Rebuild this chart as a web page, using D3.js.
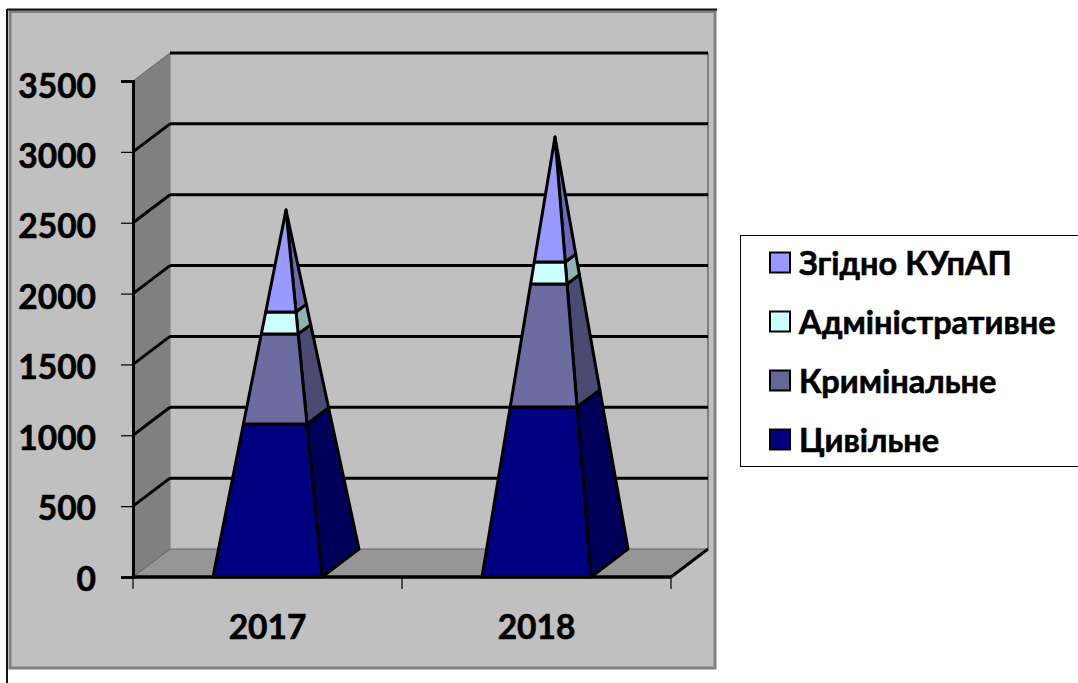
<!DOCTYPE html>
<html><head><meta charset="utf-8">
<script src="https://cdn.jsdelivr.net/npm/d3@7"></script>
<style>html,body{margin:0;padding:0;background:#fff}svg{display:block}text{font-family:Lato,"Open Sans",sans-serif;font-weight:700;fill:#000;stroke:#000;stroke-width:.6px}</style>
</head><body><svg id="c" width="1078" height="683"></svg>
<script>
const categories=["2017","2018"];
const seriesNames=["Цивільне","Кримінальне","Адміністративне","Згідно КУпАП"];
const civil=[1038,1161];
const criminal=[611,841];
const admin=[150,150];
const kupap=[692,854];
const yTicks=[0,500,1000,1500,2000,2500,3000,3500];
const frontColors=["#000080","#6c6ca2","#ccffff","#9999ff"];
const sideColors=["#00005a","#4b4b72","#8fb3b3","#6b6bb3"];
const legendColors=["#000080","#666699","#ccffff","#9999ff"];

const svg=d3.select("#c");
const x=d3.scaleBand().domain(categories).range([133,671]);
const y=d3.scaleLinear().domain([0,3500]).range([577,81]);
const labelY=d3.scaleLinear().domain([0,3500]).range([577,84]);
const dx=d3.scaleLinear().domain([0,1]).range([0,37]);
const dy=d3.scaleLinear().domain([0,1]).range([0,-28]);
const P=(px,v,d)=>[px+dx(d),y(v)+dy(d)];
const line=d3.line();
const poly=(pts,fill,stroke,sw)=>svg.append("path").attr("d",line(pts)+"Z").attr("fill",fill).attr("stroke",stroke).attr("stroke-width",sw).attr("stroke-linejoin","round");
const seg=(a,b,stroke,sw)=>svg.append("line").attr("x1",a[0]).attr("y1",a[1]).attr("x2",b[0]).attr("y2",b[1]).attr("stroke",stroke).attr("stroke-width",sw);

// panel
svg.append("rect").attr("x",10).attr("y",11.5).attr("width",705).attr("height",656.5).attr("fill","#c0c0c0").attr("stroke","#808080").attr("stroke-width",3);
seg([7,9.5],[717,9.5],"#111",2);
seg([7,9],[7,683],"#111",2);

const [x0,x1]=x.range();
// walls and floor
poly([P(x0,0,0),P(x0,3500,0),P(x0,3500,1),P(x0,0,1)],"#808080","#666",1);
poly([P(x0,0,0),P(x1,0,0),P(x1,0,1),P(x0,0,1)],"#969696","#666",1);
seg(P(x1,0,1),P(x1,3500,1),"#808080",2);
seg(P(x0,0,1),P(x0,3500,1),"#999",1);

// grid
yTicks.filter(t=>t>0).forEach(t=>{
  seg(P(x0,t,1),P(x1,t,1),"#000",3);
  if(t<3500) seg(P(x0,t,0),P(x0,t,1),"#000",3);
});
seg(P(x1,0,0),P(x1,0,1),"#000",3);

// pyramids
const rows=categories.map((c,i)=>({c,a:civil[i],b:criminal[i],d:admin[i],e:kupap[i]}));
const stack=d3.stack().keys(["a","b","d","e"])(rows);
const barW=x.bandwidth()*109/269;
categories.forEach((c,i)=>{
  const T=stack[3][i][1], cx=x(c)+x.bandwidth()/2;
  const pt=(v,side,back)=>{const t=v/T,hw=barW/2*(1-t);return P(cx+side*hw,v,back?1-t/2:t/2);};
  stack.forEach((s,k)=>{
    const [v0,v1]=s[i];
    poly([pt(v0,1,false),pt(v0,1,true),pt(v1,1,true),pt(v1,1,false)],sideColors[k],"#000",3);
    poly([pt(v0,-1,false),pt(v0,1,false),pt(v1,1,false),pt(v1,-1,false)],frontColors[k],"#000",3);
  });
});

// axes
const ax=svg.append("g").attr("transform",`translate(${x0},0)`).call(d3.axisLeft(y).tickValues(yTicks).tickFormat(d3.format("d")).tickSize(12).tickPadding(25));
ax.select(".domain").attr("stroke","#000").attr("stroke-width",3);
ax.selectAll(".tick line").attr("stroke","#000").attr("stroke-width",1.2);
ax.selectAll(".tick text").attr("font-size",33.5).style("font-family",null).attr("dy",null).attr("dominant-baseline","central")
  .attr("y",d=>labelY(d)-y(d));
const xEdge=d3.scaleOrdinal().domain([0,1,2]).range([x0,(x0+x1)/2,x1]);
const bx=svg.append("g").attr("transform","translate(0,577)");
[0,1,2].forEach(i=>bx.append("line").attr("x1",xEdge(i)).attr("x2",xEdge(i)).attr("y1",0).attr("y2",12).attr("stroke","#000").attr("stroke-width",1.2));
seg([x0,577],[x1,577],"#000",3.5);
svg.selectAll("text.cat").data(categories).join("text").attr("class","cat")
  .attr("x",d=>x(d)+x.bandwidth()/2).attr("y",626).attr("text-anchor","middle").attr("dominant-baseline","central").attr("font-size",33.5).text(d=>d);

// legend
svg.append("rect").attr("x",740.5).attr("y",235.5).attr("width",340).attr("height",231).attr("fill","#fff").attr("stroke","#000").attr("stroke-width",1);
const legendRow=d3.scalePoint().domain(seriesNames.slice().reverse()).range([262,439]);
seriesNames.forEach((n,k)=>{
  const ly=legendRow(n);
  svg.append("rect").attr("x",770).attr("y",ly-9.5).attr("width",20).attr("height",20).attr("fill",legendColors[k]).attr("stroke","#000").attr("stroke-width",2);
  svg.append("text").attr("x",799).attr("y",ly).attr("dominant-baseline","central").attr("font-size",32.5).text(n);
});
</script></body></html>
